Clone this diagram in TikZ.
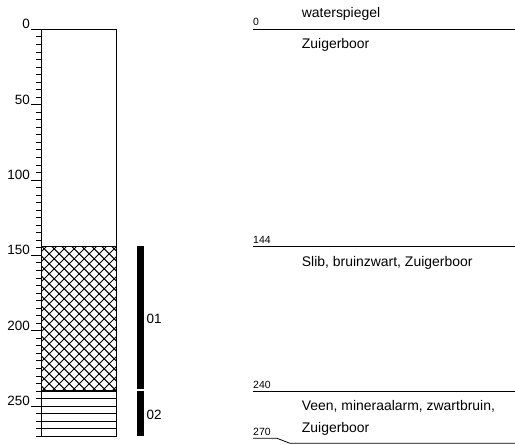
\documentclass[tikz,border=0pt]{standalone}
\usepackage{fontspec}
\setmainfont{Liberation Sans}
\begin{document}
\begin{tikzpicture}[x=1bp,y=-1bp,
  thinline/.style={line width=0.8bp},
  colline/.style={line width=1.2bp},
  hatchline/.style={line width=0.95bp},
  scalelabel/.style={font=\fontsize{13.5}{14}\selectfont, anchor=base east, inner sep=0pt},
  depthlabel/.style={font=\fontsize{10.5}{11}\selectfont, anchor=base west, inner sep=0pt},
  desc/.style={font=\fontsize{14}{16}\selectfont, anchor=base west, inner sep=0pt},
  barlabel/.style={font=\fontsize{13.5}{14}\selectfont, anchor=west, inner sep=0pt},
  sample/.style={line width=7.5bp}]
\useasboundingbox (0,0) rectangle (515,445);
% depth (cm) to vertical position
\def\top{29.3}
\def\sc{1.507}
\pgfmathsetmacro\ya{\top+\sc*144}
\pgfmathsetmacro\yb{\top+\sc*240}
\pgfmathsetmacro\yc{\top+\sc*270}
\def\xl{41.7}
\def\xr{116.7}
% clay layer: cross hatching
\begin{scope}
  \clip (\xl,\ya) rectangle (\xr,\yb);
  \foreach \i in {-16,...,9} {
    \draw[hatchline] ({\xl+10*\i},\ya) -- ++(150,150);
    \draw[hatchline] ({\xr-10*\i},\ya) -- ++(-150,150);
  }
\end{scope}
% peat layer: horizontal lines every 5 cm
\foreach \d in {245,250,...,265} {
  \draw[hatchline] (\xl,{\top+\sc*\d}) -- (\xr,{\top+\sc*\d});
}
% column outline and layer boundaries
\draw[colline] (\xl,\top) rectangle (\xr,\yc);
\draw[colline] (\xl,\ya) -- (\xr,\ya);
\draw[colline] (\xl,\yb) -- (\xr,\yb);
% depth scale
\foreach \d in {0,5,...,270} {
  \draw[thinline] (36,{\top+\sc*\d}) -- (\xl,{\top+\sc*\d});
}
\foreach \d in {0,50,...,250} {
  \draw[thinline] (31,{\top+\sc*\d}) -- (\xl,{\top+\sc*\d});
  \node[scalelabel] (s\d) at (30,{\top+\sc*\d-0.5}) {\d};
}
% sample bars
\draw[sample] (140.5,\ya) -- (140.5,{\top+\sc*238.8});
\draw[sample] (140.5,{\top+\sc*239.8}) -- (140.5,\yc);
\node[barlabel] (b01) at (146.5,{\top+\sc*192}) {01};
\node[barlabel] (b02) at (146.5,{\top+\sc*256}) {02};
% layer descriptions
\draw[thinline] (253,\top) -- (515,\top);
\node[depthlabel] (d0) at (253,26) {0};
\node[desc] (w) at (301.7,18) {waterspiegel};
\node[desc] (z0) at (301.7,48.5) {Zuigerboor};
\draw[thinline] (253,\ya) -- (515,\ya);
\node[depthlabel] (d144) at (253,243.5) {144};
\node[desc] (slib) at (301.7,266.5) {Slib, bruinzwart, Zuigerboor};
\draw[thinline] (253,\yb) -- (515,\yb);
\node[depthlabel] (d240) at (253,388.5) {240};
\node[desc] (veen) at (301.7,410) {Veen, mineraalarm, zwartbruin,};
\node[desc] (z2) at (301.7,432.3) {Zuigerboor};
\node[depthlabel] (d270) at (253,435) {270};
\draw[thinline] (253,438.3) -- (277,438.3) -- (290,443.3) -- (515,443.3);
\end{tikzpicture}
\end{document}
